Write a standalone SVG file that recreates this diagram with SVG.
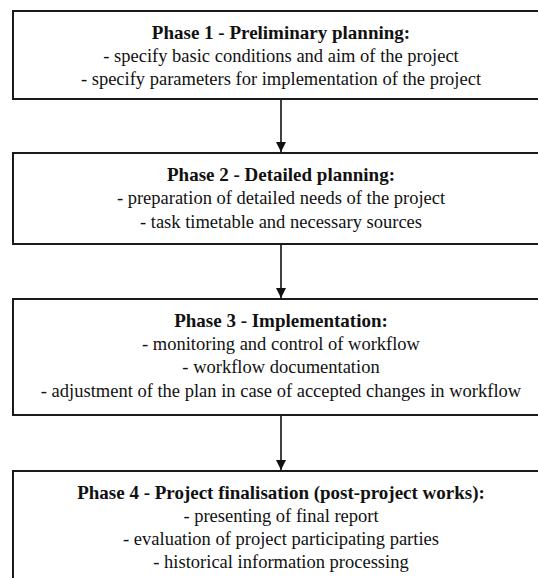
<svg xmlns="http://www.w3.org/2000/svg" width="538" height="578" viewBox="0 0 538 578">
<style>
.box{fill:#fff;stroke:#1a1a1a;stroke-width:2}
text{font-family:"Liberation Serif","Times New Roman",serif;font-size:18.5px;fill:#111;text-anchor:middle}
.t{font-weight:bold;font-size:19px}
.c{stroke:#111;stroke-width:1.6;fill:none}
</style>
<defs>
<marker id="ah" viewBox="0 0 10 10" refX="10" refY="5" markerWidth="10" markerHeight="10" markerUnits="userSpaceOnUse" orient="auto">
<path d="M0,0 L10,5 L0,10 Z" fill="#111"/>
</marker>
</defs>
<rect width="538" height="578" fill="#fff"/>
<g id="phase1">
<rect class="box" x="13" y="11" width="536" height="88"/>
<text class="t" x="281" y="39">Phase 1 - Preliminary planning:</text>
<text x="281" y="62">- specify basic conditions and aim of the project</text>
<text x="281" y="85">- specify parameters for implementation of the project</text>
</g>
<g id="phase2">
<rect class="box" x="13" y="153" width="536" height="91"/>
<text class="t" x="281" y="181">Phase 2 - Detailed planning:</text>
<text x="281" y="204">- preparation of detailed needs of the project</text>
<text x="281" y="228">- task timetable and necessary sources</text>
</g>
<g id="phase3">
<rect class="box" x="13" y="299" width="536" height="116"/>
<text class="t" x="281" y="327">Phase 3 - Implementation:</text>
<text x="281" y="350">- monitoring and control of workflow</text>
<text x="281" y="373">- workflow documentation</text>
<text x="281" y="397">- adjustment of the plan in case of accepted changes in workflow</text>
</g>
<g id="phase4">
<rect class="box" x="13" y="471" width="536" height="120"/>
<text class="t" x="281" y="499">Phase 4 - Project finalisation (post-project works):</text>
<text x="281" y="522">- presenting of final report</text>
<text x="281" y="545">- evaluation of project participating parties</text>
<text x="281" y="568">- historical information processing</text>
</g>
<g id="connectors">
<line class="c" x1="281" y1="100" x2="281" y2="152" marker-end="url(#ah)"/>
<line class="c" x1="281" y1="245" x2="281" y2="298" marker-end="url(#ah)"/>
<line class="c" x1="281" y1="416" x2="281" y2="470" marker-end="url(#ah)"/>
</g>
</svg>
